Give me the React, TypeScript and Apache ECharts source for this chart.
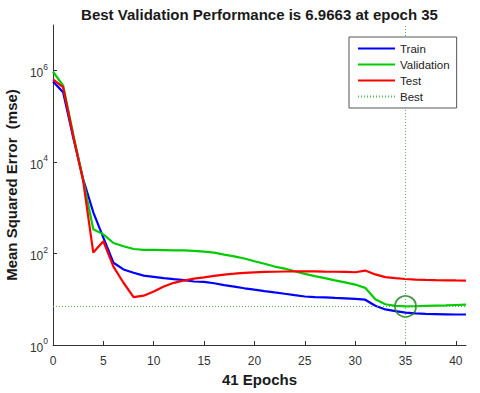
import React, { useEffect, useRef } from "react";
import * as echarts from "echarts";

const epochs = Array.from({ length: 42 }, (_, i) => i);

const trainMse = [
  5.8e5, 3.4e5, 3.5e4, 4.2e3, 800, 224, 63, 45, 38, 33,
  31, 29, 27.5, 26.3, 24.5, 24, 22.4, 20.4, 19, 17.4,
  16.2, 15.1, 14.1, 13.2, 12.3, 11.5, 11.2, 11, 10.7, 10.5,
  10.2, 9.8, 7.2, 6.0, 5.5, 5.1, 4.9, 4.8, 4.75, 4.7,
  4.65, 4.65,
];

const validationMse = [
  9.5e5, 4.8e5, 4.2e4, 4.0e3, 340, 263, 170, 145, 126, 120,
  120, 119, 118, 117, 115, 110, 105, 95, 87, 78,
  68, 60, 52, 47, 41, 36, 32, 29, 26, 23.4,
  21, 17.8, 10, 7.8, 7.2, 6.9663, 7.05, 7.15, 7.25, 7.35,
  7.5, 7.65,
];

const testMse = [
  6.5e5, 4.4e5, 3.8e4, 3.8e3, 105, 186, 52, 23, 11.2, 12,
  14.8, 19, 22.9, 25.7, 28.2, 30.2, 32.4, 34.7, 36.3, 38,
  38.9, 39.8, 40, 40.5, 40.7, 40.7, 40.7, 40.3, 40, 39.8,
  39, 42.5, 35, 30.5, 29, 27.8, 27, 26.5, 26.2, 26,
  25.8, 25.7,
];

const bestEpoch = 35;
const bestPerf = 6.9663;

const xTicks = [0, 5, 10, 15, 20, 25, 30, 35, 40];
const yTicks = [1, 100, 1e4, 1e6];

const FONT = "'Liberation Sans', Arial, sans-serif";
const BEST_COLOR = "#55bb55";

export default function App() {
  const ref = useRef<HTMLDivElement>(null);
  useEffect(() => {
    if (!ref.current) return;
    const chart = echarts.init(ref.current, undefined, { renderer: "svg" });
    const pair = (arr: number[]) => epochs.map((e, i) => [e, arr[i]]);
    chart.setOption({
      animation: false,
      backgroundColor: "#ffffff",
      textStyle: { fontFamily: FONT },
      graphic: [
        {
          type: "text",
          x: 259.5,
          y: 14,
          style: {
            text: `Best Validation Performance is ${bestPerf} at epoch ${bestEpoch}`,
            align: "center",
            verticalAlign: "middle",
            font: `bold 15px ${FONT}`,
            fill: "#1a1a1a",
          },
        },
      ],
      grid: { left: 53, top: 25, right: 14.07, bottom: 48, outerBoundsMode: "none", containLabel: false },
      legend: {
        orient: "vertical",
        left: 349,
        top: 37,
        padding: [5, 7, 5, 8],
        itemWidth: 37,
        itemHeight: 3,
        itemGap: 3,
        backgroundColor: "#ffffff",
        borderColor: "#555555",
        borderWidth: 1,
        itemStyle: { opacity: 0 },
        textStyle: { fontSize: 11.5, lineHeight: 13, color: "#222", fontFamily: FONT },
        data: ["Train", "Validation", "Test", "Best"],
        selectedMode: false,
        z: 10,
      },
      xAxis: {
        type: "value",
        min: 0,
        max: 41,
        interval: 5,
        name: "41 Epochs",
        nameLocation: "middle",
        nameGap: 25,
        nameTextStyle: { fontSize: 15, fontWeight: "bold", color: "#1a1a1a", fontFamily: FONT },
        splitLine: { show: false },
        axisLine: { lineStyle: { color: "#333", width: 1 } },
        axisTick: { inside: true, length: 4, customValues: xTicks, lineStyle: { color: "#333" } },
        axisLabel: {
          customValues: xTicks,
          margin: 10,
          fontSize: 12,
          color: "#333",
          fontFamily: FONT,
        },
      },
      yAxis: {
        type: "log",
        logBase: 10,
        min: 1,
        max: 1e7,
        name: "Mean Squared Error  (mse)",
        nameLocation: "middle",
        nameGap: 27,
        nameTextStyle: { fontSize: 15, fontWeight: "bold", color: "#1a1a1a", fontFamily: FONT },
        splitLine: { show: false },
        axisLine: { show: true, lineStyle: { color: "#333", width: 1 } },
        axisTick: { inside: true, length: 4, customValues: yTicks, lineStyle: { color: "#333" } },
        axisLabel: {
          customValues: yTicks,
          margin: 5,
          color: "#333",
          fontFamily: FONT,
          formatter: (v: number) => `{b|10}{s|${Math.round(Math.log10(v))}}`,
          rich: {
            b: { fontSize: 12, lineHeight: 17, verticalAlign: "bottom", color: "#333", fontFamily: FONT },
            s: { fontSize: 8.5, lineHeight: 10, verticalAlign: "top", color: "#333", fontFamily: FONT },
          },
        },
      },
      series: [
        {
          name: "Train",
          type: "line",
          data: pair(trainMse),
          symbol: "none",
          lineStyle: { color: "#0000ff", width: 2.2 },
          itemStyle: { color: "#0000ff" },
          z: 3,
        },
        {
          name: "Validation",
          type: "line",
          data: pair(validationMse),
          symbol: "none",
          lineStyle: { color: "#00cc00", width: 2.2 },
          itemStyle: { color: "#00cc00" },
          z: 3,
        },
        {
          name: "Test",
          type: "line",
          data: pair(testMse),
          symbol: "none",
          lineStyle: { color: "#ff0000", width: 2.2 },
          itemStyle: { color: "#ff0000" },
          z: 3,
        },
        {
          name: "Best",
          type: "line",
          data: [],
          symbol: "none",
          lineStyle: { color: BEST_COLOR, width: 1, type: [1, 2] },
          itemStyle: { color: BEST_COLOR },
          z: 2,
          markLine: {
            silent: true,
            symbol: "none",
            label: { show: false },
            lineStyle: { color: BEST_COLOR, width: 1, type: [1, 2] },
            data: [{ yAxis: bestPerf }, { xAxis: bestEpoch }],
          },
        },
        {
          name: "BestPoint",
          type: "scatter",
          data: [[bestEpoch, bestPerf]],
          symbol: "circle",
          symbolSize: 21,
          itemStyle: { color: "rgba(0,0,0,0)", borderColor: "#1b801b", borderWidth: 1.8 },
          z: 4,
        },
      ],
    });
    return () => chart.dispose();
  }, []);
  return (
    <div
      ref={ref}
      style={{ position: "fixed", left: 0, top: 0, width: 480, height: 393 }}
    />
  );
}
